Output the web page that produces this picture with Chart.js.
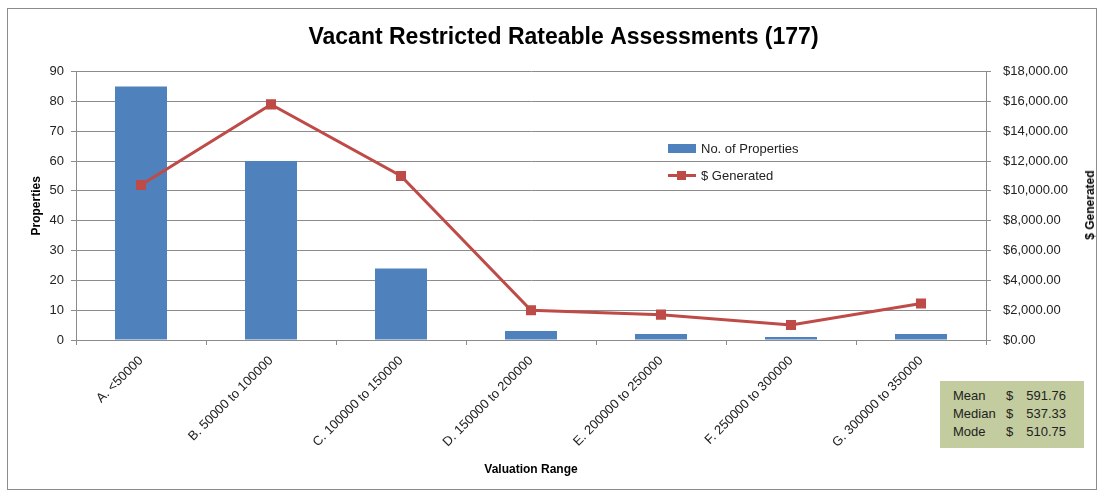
<!DOCTYPE html>
<html>
<head>
<meta charset="utf-8">
<script src="https://cdn.jsdelivr.net/npm/chart.js@4.4.0/dist/chart.umd.min.js"></script>
<style>
    html, body { margin: 0; padding: 0; background: #fff; }
    .wrap { position: relative; width: 1108px; height: 493px; font-family: "Liberation Sans", Arial, sans-serif; }
    .frame { position: absolute; left: 7px; top: 8px; width: 1090px; height: 482px; border: 1px solid #8c8c8c; box-sizing: border-box; }
    canvas { position: absolute; left: 0; top: 0; }
    .legend { position: absolute; left: 668px; top: 135px; font-size: 13px; color: #222; }
    .legend .row { display: flex; align-items: center; height: 27px; }
    .legend .swatch { width: 28px; height: 9px; background: #4f81bd; margin-right: 5px; }
    .legend .lineKey { position: relative; width: 28px; height: 9px; margin-right: 5px; }
    .legend .lineKey::before { content: ""; position: absolute; left: 0; right: 0; top: 3px; height: 3px; background: #be4b48; }
    .legend .lineKey::after { content: ""; position: absolute; left: 9px; top: 0; width: 9px; height: 9px; background: #be4b48; }
    .rightTitle { position: absolute; left: 1090px; top: 205px; transform: translate(-50%, -50%) rotate(-90deg); font-size: 12px; font-weight: bold; color: #000; white-space: nowrap; }
    .stats { position: absolute; left: 940px; top: 381px; width: 144px; height: 67px; background: #c2cc9e; font-size: 13px; color: #222; }
    .stats .r { position: absolute; left: 13px; width: 113px; }
    .stats .k { position: absolute; left: 0; }
    .stats .d { position: absolute; left: 53px; }
    .stats .v { position: absolute; right: 0; }
</style>
</head>
<body>
<div class="wrap">
    <div class="frame"></div>
    <canvas id="chart" width="1108" height="493"></canvas>
    <div class="legend">
        <div class="row"><div class="swatch"></div>No. of Properties</div>
        <div class="row"><div class="lineKey"></div>$ Generated</div>
    </div>
    <div class="rightTitle">$ Generated</div>
    <div class="stats" id="stats"></div>
</div>
<script>
// 图表数据
const categories = ['A. <50000', 'B. 50000 to 100000', 'C. 100000 to 150000', 'D. 150000 to 200000',
    'E. 200000 to 250000', 'F. 250000 to 300000', 'G. 300000 to 350000'];
const propertyCounts = [85, 60, 24, 3, 2, 1, 2];
const dollarsGenerated = [10400, 15800, 11000, 2000, 1700, 1000, 2450];
const statLabels = ['Mean', 'Median', 'Mode'];
const statValues = ['591.76', '537.33', '510.75'];

// 统计框
const statsBox = document.getElementById('stats');
statLabels.forEach((label, i) => {
    const row = document.createElement('div');
    row.className = 'r';
    row.style.top = (7 + i * 18) + 'px';
    row.innerHTML = `<span class="k">${label}</span><span class="d">$</span><span class="v">${statValues[i]}</span>`;
    statsBox.appendChild(row);
});

const font = { family: '"Liberation Sans", Arial, sans-serif', size: 13 };
const gridColor = '#8c8c8c';

const ctx = document.getElementById('chart').getContext('2d');
const chart = new Chart(ctx, {
    type: 'bar',
    data: {
        labels: categories,
        datasets: [
            {
                type: 'line',
                label: '$ Generated',
                data: dollarsGenerated,
                yAxisID: 'y1',
                borderColor: '#be4b48',
                backgroundColor: '#be4b48',
                borderWidth: 3,
                pointStyle: 'rect',
                pointRadius: 5,
                pointHoverRadius: 5,
                tension: 0,
                order: 0
            },
            {
                label: 'No. of Properties',
                data: propertyCounts,
                yAxisID: 'y',
                backgroundColor: '#4f81bd',
                categoryPercentage: 1,
                barPercentage: 0.4,
                order: 1
            }
        ]
    },
    options: {
        responsive: false,
        animation: false,
        layout: { padding: { left: 29, right: 10, top: 0, bottom: 12 } },
        plugins: {
            legend: { display: false },
            tooltip: { enabled: false },
            title: {
                display: true,
                text: 'Vacant Restricted Rateable Assessments (177)',
                color: '#000',
                font: { family: font.family, size: 23, weight: 'bold' },
                padding: { top: 24, bottom: 20 }
            }
        },
        scales: {
            x: {
                grid: { display: true, drawOnChartArea: false, drawTicks: true, tickLength: 5, color: gridColor, offset: true },
                border: { color: gridColor },
                ticks: { color: '#222', font: font, maxRotation: 45, minRotation: 45, padding: 8 },
                title: { display: true, text: 'Valuation Range', color: '#000', font: { family: font.family, size: 12, weight: 'bold' }, padding: { top: 2 } },
                afterFit: s => { s.height = 141; }
            },
            y: {
                position: 'left',
                min: 0, max: 90,
                ticks: { stepSize: 10, color: '#222', font: font, padding: 7 },
                grid: { color: gridColor, tickLength: 5 },
                border: { color: gridColor },
                title: { display: true, text: 'Properties', color: '#000', font: { family: font.family, size: 12, weight: 'bold' }, padding: 0 },
                afterFit: s => { s.width = 47; }
            },
            y1: {
                position: 'right',
                min: 0, max: 18000,
                ticks: {
                    stepSize: 2000, color: '#222', font: font, padding: 12,
                    callback: v => '$' + v.toLocaleString('en-US', { minimumFractionDigits: 2, maximumFractionDigits: 2 })
                },
                grid: { drawOnChartArea: false, color: gridColor, tickLength: 5 },
                border: { color: gridColor },
                afterFit: s => { s.width = 112; }
            }
        }
    }
});
</script>
</body>
</html>
